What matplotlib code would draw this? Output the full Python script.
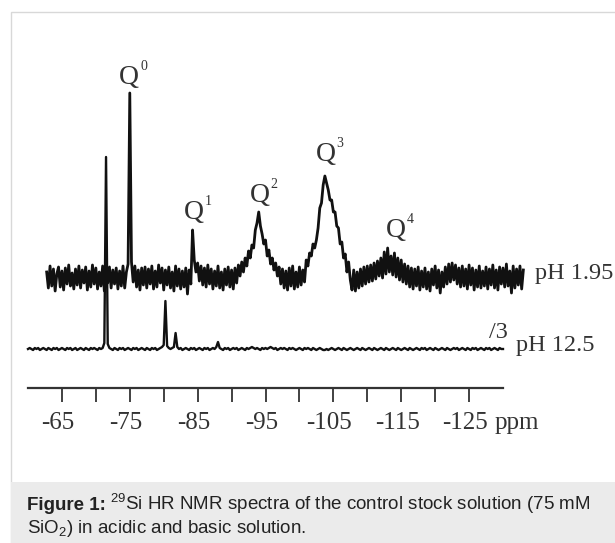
import numpy as np
import matplotlib
matplotlib.use("Agg")
import matplotlib.pyplot as plt
from matplotlib.patches import Rectangle
import matplotlib.transforms as mtransforms

plt.rcParams['mathtext.fontset'] = 'custom'
plt.rcParams['mathtext.rm'] = 'Liberation Sans'
plt.rcParams['mathtext.it'] = 'Liberation Sans:italic'
plt.rcParams['mathtext.bf'] = 'Liberation Sans:bold'

# ---------------- data ----------------
# pH 1.95 spectrum: intensities on a regular ppm grid (start, step)
acid_start, acid_step = -62.75, -0.25
acid_int = [
    6, -10, 12, -8, 9, -13, 4, 11, -9, 7, -12, 10, -6, 13, -8, 5, -11, 9, -7, 12,
    -10, 8, -5, 11, -12, 7, -9, 13, -6, 10, -11, 6, -8, 12, -13, 9, -5, 11, -10, 8,
    -6, 10, -11, 7, -8, 12, -10, 6, 14, 185, 16, -4, 12, -9, 8, -12, 10, -7, 11, -10,
    9, -6, 12, -11, 7, -9, 13, -5, 10, -12, 8, -7, 11, -10, 6, -13, 12, -8, 9, -11,
    7, -9, 10, -16, 8, -6, 48, 18, 6, 15, -3, 12, -7, 10, -9, 13, -6, 9, -11, 7,
    -8, 12, -10, 6, -12, 9, -7, 11, -9, 8, -11, 10, -5, 13, 2, 16, 6, 20, 12, 27,
    20, 33, 30, 48, 55, 66, 52, 44, 34, 38, 22, 28, 14, 20, 8, 15, 2, 11, -6, 9,
    -10, 7, -12, 10, -8, 12, -11, 6, -9, 11, -7, 8, -4, 18, 12, 25, 22, 34, 30, 38,
    50, 70, 75, 93, 102, 95, 88, 78, 78, 66, 66, 52, 50, 34, 36, 20, 24, 6, 16, -2,
    -12, 8, -13, 6, -10, 9, -8, 11, -6, 12, -4, 13, -3, 15, -1, 17, 2, 20, 0, 26,
    4, 30, 6, 22, 3, 25, 1, 20, -2, 18, -4, 14, -6, 12, -9, 10, -11, 9, -8, 11,
    -12, 7, -9, 10, -11, 6, -13, 9, -7, 12, -10, 8, -15, 6, -9, 11, -6, 14, -4, 15,
    -2, 13, -6, 10, -9, 12, -8, 9, -11, 13, -7, 10, -12, 8, -9, 12, -10, 7, -8, 11,
    -11, 9, -7, 13, -10, 8, -12, 11, -6, 10, -9, 14, -8, 7, -15, 12, -10, 9, -7, 12,
    -11, 8,
]
# pH 12.5 spectrum (shown /3): intensities on a regular ppm grid
base_start, base_step = -60.0, -0.25
base_int = [
    0, 1, 0, -1, 1, 0, 1, -1, 0, 1, 0, -1, 1, 0, -1, 1, 0, 1, -1, 0,
    1, 0, -1, 1, 0, 1, -1, 0, 1, -1, 0, 1, 0, -1, 1, 0, -1, 1, 0, 1,
    0, -1, 1, 0, 1, 6, 192, 5, 1, 0, -1, 1, 0, -1, 1, 0, 1, -1, 0, 1,
    0, -1, 1, 0, 1, -1, 0, 1, 0, -1, 1, 0, -1, 1, 0, 1, -1, 0, 1, 2,
    4, 48, 3, 1, 0, 1, 2, 16, 2, 0, 1, -1, 0, 1, 0, -1, 1, 0, 1, -1,
    0, 1, 0, -1, 1, 0, 1, -1, 0, 1, 0, 2, 7, 1, 0, -1, 1, 0, 1, -1,
    0, 1, 0, 1, -1, 0, 1, 0, -1, 1, 0, 1, 2, 1, 0, 1, 0, -1, 1, 0,
    1, 0, 1, 2, 1, 0, 1, -1, 0, 1, 0, 1, 0, -1, 1, 0, 1, 0, -1, 0,
    1, 0, -1, 1, 0, 1, 0, -1, 1, 0, -1, 0, 1, 0, -1, -1, 0, -1, 0, 1,
    0, -1, 0, 1, 0, -1, 1, 0, -1, 0, 1, 0, -1, 0, 1, 0, -1, 1, 0, -1,
    0, 1, 0, -1, 1, 0, -1, 0, 1, 0, -1, 1, 0, -1, 0, 1, 0, -1, 1, 0,
    -1, 0, 1, 0, -1, 1, 0, -1, 0, 1, 0, -1, 1, 0, 1, -1, 0, 1, 0, -1,
    1, 0, -1, 0, 1, 0, -1, 1, 0, -1, 0, 1, 0, 1, -1, 0, 1, 0, -1, 1,
    0, -1, 1, 0, 1, -1, 0, 1, 0, -1, 1, 0, 1, -1, 0, 1, 0, -1, 1, 0, 0,
]
tick_values = [-65, -70, -75, -80, -85, -90, -95, -100, -105, -110, -115, -120, -125]
tick_labels = ['-65', '', '-75', '', '-85', '', '-95', '', '-105', '', '-115', '', '-125']
q_names = ['0', '1', '2', '3', '4']
q_ppm = [-74.9, -84.4, -94.1, -103.85, -114.2]
series_names = ['pH 1.95', 'pH 12.5']

# ---------------- layout ----------------
W, H = 615, 543
fig = plt.figure(figsize=(W / 100, H / 100), dpi=100)
fig.patch.set_facecolor('white')

# outer panel border and caption box (behind the axes)
fig.patches.append(Rectangle((10.5 / W, -0.1), 1.2, 1 - 12.5 / H + 0.1,
                             transform=fig.transFigure, facecolor='white',
                             edgecolor='#d8d8d8', lw=1.0, zorder=-5))
fig.patches.append(Rectangle((10.5 / W, 0), 1.2, 61 / H,
                             transform=fig.transFigure, facecolor='#ebebeb',
                             edgecolor='none', zorder=-4))

ax = fig.add_axes([28 / W, (H - 388) / H, 475 / W, 328 / H])
ax.set_zorder(2)
ax.patch.set_alpha(0)
ax.set_xlim(-60, -130)
ax.set_ylim(0, 328)

off_acid = 110
off_base = 39

x_acid = acid_start + acid_step * np.arange(len(acid_int))
x_base = base_start + base_step * np.arange(len(base_int))
ax.plot(x_base, off_base + np.array(base_int), color='#111111', lw=1.7,
        clip_on=False)
ax.plot(x_acid, off_acid + np.array(acid_int), color='#111111', lw=2.0,
        clip_on=False)

for s in ['top', 'right', 'left']:
    ax.spines[s].set_visible(False)
ax.spines['bottom'].set_color('#333333')
ax.spines['bottom'].set_linewidth(1.6)
ax.set_yticks([])
ax.set_xticks(tick_values)
ax.set_xticklabels(tick_labels)
ax.tick_params(axis='x', direction='out', length=10, width=1.3, color='#333333',
               pad=7, labelsize=18, labelcolor='#333333')
shift = mtransforms.ScaledTranslation(-4 / 100, 0, fig.dpi_scale_trans)
for lab in ax.get_xticklabels():
    lab.set_fontfamily('Liberation Serif')
    lab.set_transform(lab.get_transform() + shift)

serif = 'Liberation Serif'
ax.text(-128.8, -41, 'ppm', fontsize=18, family=serif, color='#333333',
        ha='left', va='baseline')

# Q labels
q_base = [304, 169, 186, 227, 151]
for name, xp, yb in zip(q_names, q_ppm, q_base):
    ax.text(xp, yb, 'Q', fontsize=20, family=serif, color='#333333',
            ha='center', va='baseline')
    ax.annotate(name, xy=(xp, yb), xytext=(8.0, 10), textcoords='offset points',
                fontsize=10, family=serif, color='#333333', ha='left', va='baseline')

# series labels
ax.text(-134.7, 114, series_names[0], fontsize=17.5, family=serif, color='#333333',
        ha='left', va='center')
ax.text(-131.9, 43, series_names[1], fontsize=17.5, family=serif, color='#333333',
        ha='left', va='center')
ax.text(-128.0, 55, '/3', fontsize=17.5, family=serif, color='#333333',
        ha='left', va='center')

# caption
cap_kw = dict(fontsize=13.5, family='Liberation Sans', color='#222222', va='baseline')
t1 = fig.text(27 / W, 1 - 510 / H, 'Figure 1:', weight='bold', **cap_kw)
renderer = fig.canvas.get_renderer()
bb = t1.get_window_extent(renderer)
fig.text((bb.x1 + 4) / W, 1 - 510 / H,
         r'$^{29}$Si HR NMR spectra of the control stock solution (75 mM', **cap_kw)
fig.text(27 / W, 1 - 533 / H, r'SiO$_{2}$) in acidic and basic solution.', **cap_kw)

fig.savefig('out.png', dpi=100, facecolor='white')
